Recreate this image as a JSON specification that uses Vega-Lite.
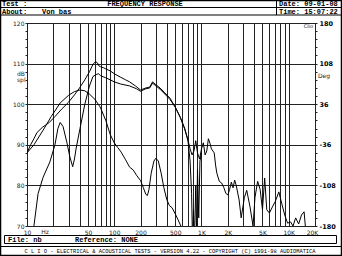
{
  "$schema": "https://vega.github.io/schema/vega-lite/v6.json",
  "width": 288,
  "height": 203,
  "autosize": "none",
  "padding": {"left": 27, "top": 23, "right": 27, "bottom": 30},
  "background": "white",
  "config": {"view": {"stroke": "black", "strokeWidth": 1}, "font": "Liberation Mono"},
  "data": {"values": [{}]},
  "datasets": {
    "curves": [
      {"f": 10, "db": 88, "s": "P"}, {"f": 12, "db": 90, "s": "P"}, {"f": 15.3, "db": 93.6, "s": "P"}, {"f": 19, "db": 97, "s": "P"}, {"f": 24, "db": 100.3, "s": "P"}, {"f": 30, "db": 102.2, "s": "P"}, {"f": 35, "db": 103.1, "s": "P"}, {"f": 40.5, "db": 103.5, "s": "P"}, {"f": 46, "db": 103.3, "s": "P"}, {"f": 52, "db": 102.5, "s": "P"}, {"f": 60, "db": 101.2, "s": "P"}, {"f": 69, "db": 99.3, "s": "P"}, {"f": 80, "db": 96, "s": "P"}, {"f": 90, "db": 92.5, "s": "P"}, {"f": 100, "db": 90.5, "s": "P"}, {"f": 110, "db": 89.3, "s": "P"}, {"f": 120, "db": 88.2, "s": "P"}, {"f": 135, "db": 86.3, "s": "P"}, {"f": 150, "db": 84.5, "s": "P"}, {"f": 165, "db": 83.8, "s": "P"}, {"f": 180, "db": 82.5, "s": "P"}, {"f": 200, "db": 81.2, "s": "P"}, {"f": 215, "db": 79.5, "s": "P"}, {"f": 230, "db": 77.8, "s": "P"}, {"f": 240, "db": 77.5, "s": "P"}, {"f": 250, "db": 79, "s": "P"}, {"f": 265, "db": 83, "s": "P"}, {"f": 285, "db": 86, "s": "P"}, {"f": 300, "db": 86.7, "s": "P"}, {"f": 320, "db": 86, "s": "P"}, {"f": 345, "db": 83, "s": "P"}, {"f": 370, "db": 79.5, "s": "P"}, {"f": 400, "db": 76.5, "s": "P"}, {"f": 430, "db": 75, "s": "P"}, {"f": 460, "db": 74.5, "s": "P"}, {"f": 500, "db": 73, "s": "P"}, {"f": 540, "db": 71.5, "s": "P"}, {"f": 580, "db": 70, "s": "P"}, {"f": 620, "db": 68, "s": "P"},
      {"f": 12, "db": 70, "s": "W"}, {"f": 13.4, "db": 78, "s": "W"}, {"f": 15.3, "db": 82, "s": "W"}, {"f": 18.3, "db": 85.8, "s": "W"}, {"f": 20.9, "db": 90, "s": "W"}, {"f": 22.6, "db": 94, "s": "W"}, {"f": 24, "db": 95.5, "s": "W"}, {"f": 25.9, "db": 94.5, "s": "W"}, {"f": 28.7, "db": 90.5, "s": "W"}, {"f": 31, "db": 87, "s": "W"}, {"f": 33.4, "db": 84.6, "s": "W"}, {"f": 35, "db": 86.5, "s": "W"}, {"f": 36.5, "db": 89, "s": "W"}, {"f": 40.5, "db": 94, "s": "W"}, {"f": 46, "db": 100, "s": "W"}, {"f": 52, "db": 104.5, "s": "W"}, {"f": 57, "db": 106.8, "s": "W"}, {"f": 62, "db": 107.3, "s": "W"}, {"f": 66, "db": 107.5, "s": "W"}, {"f": 70, "db": 107, "s": "W"}, {"f": 80, "db": 106.5, "s": "W"}, {"f": 90, "db": 106, "s": "W"}, {"f": 100, "db": 105.5, "s": "W"}, {"f": 117, "db": 105, "s": "W"}, {"f": 150, "db": 104.5, "s": "W"}, {"f": 180, "db": 103.8, "s": "W"}, {"f": 200, "db": 103.2, "s": "W"}, {"f": 230, "db": 103.8, "s": "W"}, {"f": 255, "db": 104, "s": "W"}, {"f": 275, "db": 105.2, "s": "W"}, {"f": 300, "db": 104.5, "s": "W"}, {"f": 335, "db": 103.7, "s": "W"}, {"f": 380, "db": 102.5, "s": "W"}, {"f": 435, "db": 101.2, "s": "W"}, {"f": 500, "db": 99.3, "s": "W"}, {"f": 570, "db": 96.8, "s": "W"}, {"f": 640, "db": 94, "s": "W"}, {"f": 700, "db": 91, "s": "W"}, {"f": 740, "db": 86, "s": "W"}, {"f": 770, "db": 78, "s": "W"}, {"f": 790, "db": 66, "s": "W"}, {"f": 810, "db": 74, "s": "W"}, {"f": 830, "db": 66, "s": "W"}, {"f": 860, "db": 80, "s": "W"}, {"f": 880, "db": 68, "s": "W"}, {"f": 900, "db": 84, "s": "W"}, {"f": 930, "db": 72, "s": "W"}, {"f": 960, "db": 86, "s": "W"}, {"f": 1000, "db": 88, "s": "W"},
      {"f": 10, "db": 88, "s": "S"}, {"f": 11, "db": 90, "s": "S"}, {"f": 12, "db": 91.5, "s": "S"}, {"f": 13, "db": 93, "s": "S"}, {"f": 15, "db": 94.3, "s": "S"}, {"f": 18, "db": 95.5, "s": "S"}, {"f": 21, "db": 97, "s": "S"}, {"f": 25, "db": 98.8, "s": "S"}, {"f": 30, "db": 100.5, "s": "S"}, {"f": 35, "db": 102.3, "s": "S"}, {"f": 40, "db": 104, "s": "S"}, {"f": 46, "db": 106, "s": "S"}, {"f": 52, "db": 108, "s": "S"}, {"f": 57, "db": 109.8, "s": "S"}, {"f": 61, "db": 110.5, "s": "S"}, {"f": 64, "db": 110.2, "s": "S"}, {"f": 67, "db": 109.4, "s": "S"}, {"f": 70, "db": 109.2, "s": "S"}, {"f": 75, "db": 109, "s": "S"}, {"f": 80, "db": 108.7, "s": "S"}, {"f": 90, "db": 108.2, "s": "S"}, {"f": 100, "db": 107.5, "s": "S"}, {"f": 117, "db": 106.7, "s": "S"}, {"f": 135, "db": 106, "s": "S"}, {"f": 150, "db": 105.5, "s": "S"}, {"f": 175, "db": 104.5, "s": "S"}, {"f": 200, "db": 103.5, "s": "S"}, {"f": 230, "db": 104, "s": "S"}, {"f": 255, "db": 104.2, "s": "S"}, {"f": 275, "db": 105.5, "s": "S"}, {"f": 300, "db": 104.8, "s": "S"}, {"f": 335, "db": 104, "s": "S"}, {"f": 380, "db": 102.8, "s": "S"}, {"f": 435, "db": 101.5, "s": "S"}, {"f": 500, "db": 99.3, "s": "S"}, {"f": 570, "db": 96.8, "s": "S"}, {"f": 640, "db": 94.1, "s": "S"}, {"f": 700, "db": 91.2, "s": "S"}, {"f": 740, "db": 89, "s": "S"}, {"f": 780, "db": 87.5, "s": "S"}, {"f": 820, "db": 88.5, "s": "S"}, {"f": 860, "db": 91, "s": "S"}, {"f": 900, "db": 88, "s": "S"}, {"f": 950, "db": 86.5, "s": "S"}, {"f": 1000, "db": 89, "s": "S"}, {"f": 1050, "db": 90.5, "s": "S"}, {"f": 1100, "db": 87.5, "s": "S"}, {"f": 1150, "db": 88.5, "s": "S"}, {"f": 1200, "db": 91.5, "s": "S"}, {"f": 1250, "db": 90.4, "s": "S"}, {"f": 1300, "db": 89, "s": "S"}, {"f": 1400, "db": 88, "s": "S"}, {"f": 1450, "db": 85, "s": "S"}, {"f": 1500, "db": 83, "s": "S"}, {"f": 1600, "db": 81, "s": "S"}, {"f": 1700, "db": 80.6, "s": "S"}, {"f": 1800, "db": 79.5, "s": "S"}, {"f": 1900, "db": 78.1, "s": "S"}, {"f": 2000, "db": 77.6, "s": "S"}, {"f": 2100, "db": 79, "s": "S"}, {"f": 2200, "db": 80.8, "s": "S"}, {"f": 2300, "db": 79.4, "s": "S"}, {"f": 2400, "db": 81.3, "s": "S"}, {"f": 2500, "db": 80, "s": "S"}, {"f": 2700, "db": 76.4, "s": "S"}, {"f": 2850, "db": 72, "s": "S"}, {"f": 3100, "db": 77, "s": "S"}, {"f": 3300, "db": 78.8, "s": "S"}, {"f": 3600, "db": 74.7, "s": "S"}, {"f": 3900, "db": 70, "s": "S"}, {"f": 4100, "db": 77, "s": "S"}, {"f": 4400, "db": 81, "s": "S"}, {"f": 4700, "db": 79, "s": "S"}, {"f": 5000, "db": 74, "s": "S"}, {"f": 5300, "db": 81.8, "s": "S"}, {"f": 5600, "db": 74, "s": "S"}, {"f": 6000, "db": 73.2, "s": "S"}, {"f": 6500, "db": 74.7, "s": "S"}, {"f": 7000, "db": 76, "s": "S"}, {"f": 7700, "db": 78.4, "s": "S"}, {"f": 8300, "db": 75.6, "s": "S"}, {"f": 9000, "db": 72.7, "s": "S"}, {"f": 9700, "db": 70.7, "s": "S"}, {"f": 10500, "db": 71, "s": "S"}, {"f": 11200, "db": 70, "s": "S"}, {"f": 12000, "db": 72, "s": "S"}, {"f": 13000, "db": 70.5, "s": "S"}, {"f": 14000, "db": 72.7, "s": "S"}, {"f": 15000, "db": 73.5, "s": "S"}, {"f": 15500, "db": 70, "s": "S"}
    ],
    "labels": [
      {"t": "Test :", "f": 5.168, "db": 124.56},
      {"t": "About:", "f": 5.168, "db": 122.83},
      {"t": "Von bas", "f": 14.86, "db": 122.83},
      {"t": "Date: 09-01-08", "f": 7735, "db": 124.56},
      {"t": "Time: 15:07:22", "f": 7735, "db": 122.83},
      {"t": "File: nb", "f": 6.056, "db": 66.67},
      {"t": "Reference: NONE", "f": 35.5, "db": 66.67}
    ]
  },
  "layer": [
    {
      "data": {"name": "curves"},
      "mark": {"type": "line", "color": "black", "strokeWidth": 1, "clip": true, "interpolate": "linear"},
      "encoding": {
        "x": {
          "field": "f", "type": "quantitative",
          "scale": {"type": "log", "domain": [10, 20000], "nice": false},
          "axis": {
            "title": null,
            "values": [10, 20, 30, 40, 50, 60, 70, 80, 90, 100, 200, 300, 400, 500, 600, 700, 800, 900, 1000, 2000, 3000, 4000, 5000, 6000, 7000, 8000, 9000, 10000, 20000],
            "labelExpr": "(datum.value == 10 || datum.value == 50 || datum.value == 100 || datum.value == 200 || datum.value == 500) ? ('' + datum.value) : ((datum.value == 1000 || datum.value == 2000 || datum.value == 5000 || datum.value == 10000 || datum.value == 20000) ? ((datum.value / 1000) + 'K') : '')",
            "labelOffset": {"condition": {"test": "datum.value == 20000", "value": -3}, "value": 0},
            "grid": true, "gridColor": "#222", "gridWidth": 1, "gridOpacity": 1,
            "ticks": false, "domain": false,
            "labelFont": "DejaVu Sans", "labelFontSize": 6, "labelColor": "#222", "labelPadding": 3, "labelFlush": false, "labelOverlap": false
          }
        },
        "y": {
          "field": "db", "type": "quantitative",
          "scale": {"domain": [70, 120], "nice": false, "zero": false},
          "axis": {
            "title": null,
            "values": [70, 72, 74, 76, 78, 80, 82, 84, 86, 88, 90, 92, 94, 96, 98, 100, 102, 104, 106, 108, 110, 112, 114, 116, 118, 120],
            "labelExpr": "datum.value % 10 === 0 ? '' + datum.value : ''",
            "grid": true, "gridColor": "#222", "gridWidth": 1,
            "gridOpacity": {"condition": {"test": "datum.value % 10 === 0", "value": 1}, "value": 0},
            "tickSize": 2, "tickColor": "#222", "domain": false,
            "labelFont": "DejaVu Sans", "labelFontSize": 6, "labelColor": "#222", "labelPadding": 1, "labelOverlap": false
          }
        },
        "detail": {"field": "s"}
      }
    },
    {
      "mark": {"type": "text", "text": "Deg", "align": "left", "baseline": "middle", "font": "DejaVu Sans", "fontSize": 6, "color": "#222"},
      "encoding": {
        "x": {"datum": 21650, "type": "quantitative"},
        "y": {
          "datum": 106.95, "type": "quantitative",
          "axis": {
            "orient": "right", "title": null,
            "values": [70, 72, 74, 76, 78, 80, 82, 84, 86, 88, 90, 92, 94, 96, 98, 100, 102, 104, 106, 108, 110, 112, 114, 116, 118, 120],
            "labelExpr": "datum.value % 10 !== 0 ? '' : (datum.value < 95 ? '-' + round((95 - datum.value) * 7.2) : '' + round((datum.value - 95) * 7.2))",
            "grid": false, "tickSize": 2, "tickColor": "#222", "domain": false,
            "labelFont": "DejaVu Sans", "labelFontSize": 6.5, "labelFontWeight": "bold", "labelColor": "#000", "labelPadding": 2, "labelOverlap": false
          }
        }
      }
    },
    {
      "mark": {"type": "text", "text": "dB", "align": "left", "baseline": "middle", "font": "DejaVu Sans", "fontSize": 6, "color": "#222"},
      "encoding": {"x": {"datum": 7.68, "type": "quantitative"}, "y": {"datum": 107.44, "type": "quantitative", "axis": null}}
    },
    {
      "mark": {"type": "text", "text": "spl", "align": "left", "baseline": "middle", "font": "DejaVu Sans", "fontSize": 6, "color": "#222"},
      "encoding": {"x": {"datum": 7.68, "type": "quantitative"}, "y": {"datum": 105.84, "type": "quantitative", "axis": null}}
    },
    {
      "mark": {"type": "text", "text": "Hz", "align": "center", "baseline": "middle", "font": "DejaVu Sans", "fontSize": 6, "color": "#222"},
      "encoding": {"x": {"datum": 16.08, "type": "quantitative"}, "y": {"datum": 68.4, "type": "quantitative", "axis": null}}
    },
    {
      "mark": {"type": "text", "text": "Clio", "align": "right", "baseline": "middle", "font": "DejaVu Sans", "fontSize": 5, "color": "#222"},
      "encoding": {"x": {"datum": 18970, "type": "quantitative"}, "y": {"datum": 119.26, "type": "quantitative", "axis": null}}
    },
    {
      "mark": {"type": "text", "text": "FREQUENCY RESPONSE", "align": "center", "baseline": "middle", "font": "Liberation Mono", "fontSize": 7, "fontWeight": "bold", "color": "black"},
      "encoding": {"x": {"datum": 225.1, "type": "quantitative"}, "y": {"datum": 124.56, "type": "quantitative", "axis": null}}
    },
    {
      "mark": {"type": "text", "text": "C L I O  -  ELECTRICAL & ACOUSTICAL TESTS  -  VERSION 4.22  -  COPYRIGHT (C) 1991-98 AUDIOMATICA", "align": "center", "baseline": "middle", "font": "Liberation Mono", "fontSize": 5.4, "color": "black"},
      "encoding": {"x": {"datum": 435.6, "type": "quantitative"}, "y": {"datum": 63.84, "type": "quantitative", "axis": null}}
    },
    {
      "data": {"name": "labels"},
      "mark": {"type": "text", "align": "left", "baseline": "middle", "font": "Liberation Mono", "fontSize": 7, "fontWeight": "bold", "color": "black"},
      "encoding": {
        "x": {"field": "f", "type": "quantitative"},
        "y": {"field": "db", "type": "quantitative", "axis": null},
        "text": {"field": "t"}
      }
    },
    {
      "mark": {"type": "rect", "fill": null, "stroke": "black", "strokeWidth": 1.5},
      "encoding": {
        "x": {"datum": 4.9699, "type": "quantitative"}, "x2": {"datum": 40250},
        "y": {"datum": 125.542, "type": "quantitative", "axis": null}, "y2": {"datum": 62.734}
      }
    },
    {
      "mark": {"type": "rule", "color": "black", "strokeWidth": 1},
      "encoding": {
        "x": {"datum": 4.9699, "type": "quantitative"}, "x2": {"datum": 40250},
        "y": {"datum": 121.97, "type": "quantitative", "axis": null}
      }
    },
    {
      "mark": {"type": "rule", "color": "black", "strokeWidth": 1},
      "encoding": {
        "x": {"datum": 4.9699, "type": "quantitative"}, "x2": {"datum": 40250},
        "y": {"datum": 123.818, "type": "quantitative", "axis": null}
      }
    },
    {
      "mark": {"type": "rule", "color": "black", "strokeWidth": 1},
      "encoding": {
        "x": {"datum": 4.9699, "type": "quantitative"}, "x2": {"datum": 40250},
        "y": {"datum": 64.95, "type": "quantitative", "axis": null}
      }
    },
    {
      "mark": {"type": "rule", "color": "black", "strokeWidth": 1},
      "encoding": {
        "x": {"datum": 7241, "type": "quantitative"},
        "y": {"datum": 125.542, "type": "quantitative", "axis": null}, "y2": {"datum": 121.97}
      }
    },
    {
      "mark": {"type": "rect", "fill": null, "stroke": "black", "strokeWidth": 1},
      "encoding": {
        "x": {"datum": 5.522, "type": "quantitative"}, "x2": {"datum": 35270},
        "y": {"datum": 67.66, "type": "quantitative", "axis": null}, "y2": {"datum": 65.69}
      }
    }
  ],
  "resolve": {"axis": {"y": "independent"}}
}
